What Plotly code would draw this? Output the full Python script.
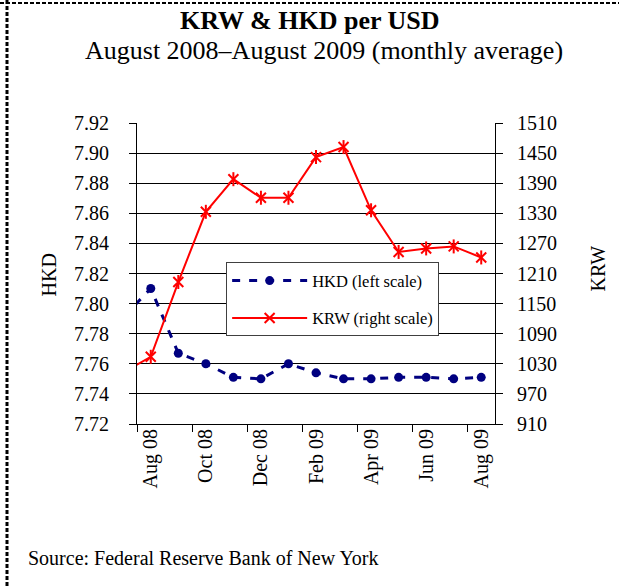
import plotly.graph_objects as go

# Monthly averages, July 2008 - August 2009 (July 2008 sits just left of the axis)
months = ["Jul 08", "Aug 08", "Sep 08", "Oct 08", "Nov 08", "Dec 08", "Jan 09",
          "Feb 09", "Mar 09", "Apr 09", "May 09", "Jun 09", "Jul 09", "Aug 09"]
hkd = [7.791, 7.810, 7.767, 7.760, 7.751, 7.750, 7.760,
       7.754, 7.750, 7.750, 7.751, 7.751, 7.750, 7.751]
krw = [1013, 1044, 1193, 1333, 1398, 1361, 1361,
       1442, 1462, 1336, 1253, 1260, 1264, 1242]

hkd_ticks = [7.72, 7.74, 7.76, 7.78, 7.80, 7.82, 7.84, 7.86, 7.88, 7.90, 7.92]
krw_ticks = [910, 970, 1030, 1090, 1150, 1210, 1270, 1330, 1390, 1450, 1510]

# position of each month along the category axis (Aug 08 = 0)
xpos = [i - 1 for i in range(len(months))]
label_pos = [x for x, m in zip(xpos, months) if x >= 0 and x % 2 == 0]
label_txt = [m for x, m in zip(xpos, months) if x >= 0 and x % 2 == 0]
bound_pos = [x - 0.5 for x in label_pos]

FONT = "Liberation Serif, Times New Roman, serif"
NAVY = "#000080"
RED = "#FF0000"

fig = go.Figure()

fig.add_trace(go.Scatter(
    x=xpos, y=hkd, name="HKD (left scale)", mode="lines+markers",
    line=dict(color=NAVY, width=3, dash="8px,9px"),
    marker=dict(symbol="circle", size=9, color=NAVY),
    legendgroup="hkd", yaxis="y", xaxis="x"))

fig.add_trace(go.Scatter(
    x=xpos, y=krw, name="KRW (right scale)", mode="lines+markers",
    line=dict(color=RED, width=2),
    marker=dict(symbol="x-thin-open", size=10, color=RED,
                line=dict(color=RED, width=2)),
    legendgroup="krw", yaxis="y2", xaxis="x"))

# vertical stroke that completes the star markers
fig.add_trace(go.Scatter(
    x=xpos, y=krw, mode="markers", showlegend=False, hoverinfo="skip",
    marker=dict(symbol="line-ns-open", size=10, color=RED,
                line=dict(color=RED, width=2)),
    legendgroup="krw", yaxis="y2", xaxis="x"))

axis_common = dict(showline=True, linecolor="black", linewidth=1,
                   ticks="outside", ticklen=7, tickcolor="black", tickwidth=1,
                   tickfont=dict(family=FONT, size=20, color="black"))

fig.update_layout(
    width=619, height=586,
    margin=dict(l=137, r=124, t=123, b=162),
    paper_bgcolor="white", plot_bgcolor="white",
    font=dict(family=FONT, color="black"),
    showlegend=True,
    legend=dict(x=0.249, y=0.537, xanchor="left", yanchor="top",
                bgcolor="white", bordercolor="#404040", borderwidth=1,
                font=dict(family=FONT, size=16.5, color="black"),
                itemwidth=75, tracegroupgap=13, traceorder="grouped"),
    xaxis=dict(range=[-0.5, 12.5], tickmode="array", tickvals=bound_pos,
               ticktext=["" for _ in bound_pos], showgrid=False, zeroline=False,
               **axis_common),
    xaxis2=dict(range=[-0.5, 12.5], overlaying="x", anchor="y", side="bottom",
                tickmode="array", tickvals=label_pos, ticktext=label_txt,
                tickangle=-90, ticks="", showline=False, showgrid=False,
                zeroline=False,
                tickfont=dict(family=FONT, size=20, color="black")),
    yaxis=dict(range=[7.72, 7.92], tickmode="array", tickvals=hkd_ticks,
               tickformat=".2f", showgrid=True, gridcolor="black", gridwidth=1,
               zeroline=False, ticklabelstandoff=16, **axis_common),
    yaxis2=dict(range=[910, 1510], tickmode="array", tickvals=krw_ticks,
                overlaying="y", side="right", showgrid=False, zeroline=False,
                ticklabelstandoff=10, **axis_common),
)

# empty trace so the label axis is rendered
fig.add_trace(go.Scatter(x=[None], y=[None], xaxis="x2", yaxis="y",
                         showlegend=False, hoverinfo="skip"))

fig.add_annotation(text="<b>KRW & HKD per USD</b>", xref="paper", yref="paper",
                   x=0.5, y=1, xanchor="center", yanchor="middle", yshift=103,
                   xshift=-6, showarrow=False,
                   font=dict(family=FONT, size=26, color="black"))
fig.add_annotation(text="August 2008\u2013August 2009 (monthly average)",
                   xref="paper", yref="paper", x=0.5, y=1, xanchor="center",
                   yanchor="middle", yshift=73, xshift=8, showarrow=False,
                   font=dict(family=FONT, size=26, color="black"))
fig.add_annotation(text="HKD", xref="paper", yref="paper", x=0, y=0.5,
                   xanchor="center", yanchor="middle", xshift=-89, yshift=-2,
                   textangle=-90, showarrow=False,
                   font=dict(family=FONT, size=20, color="black"))
fig.add_annotation(text="KRW", xref="paper", yref="paper", x=1, y=0.5,
                   xanchor="center", yanchor="middle", xshift=102, yshift=5,
                   textangle=-90, showarrow=False,
                   font=dict(family=FONT, size=20, color="black"))
fig.add_annotation(text="Source: Federal Reserve Bank of New York",
                   xref="paper", yref="paper", x=0, y=0, xanchor="left",
                   yanchor="middle", xshift=-111, yshift=-134, showarrow=False,
                   font=dict(family=FONT, size=20, color="black"))

# dashed frame on the top and left edges
fig.add_shape(type="line", xref="paper", yref="paper", x0=-137/358, x1=482/358,
              y0=1 + 120/301, y1=1 + 120/301,
              line=dict(color="black", width=2, dash="4px,2px"))
fig.add_shape(type="line", xref="paper", yref="paper", x0=-130/358, x1=-130/358,
              y0=-162/301, y1=1 + 123/301,
              line=dict(color="black", width=3, dash="4px,2px"))

fig.write_html("out.html")
